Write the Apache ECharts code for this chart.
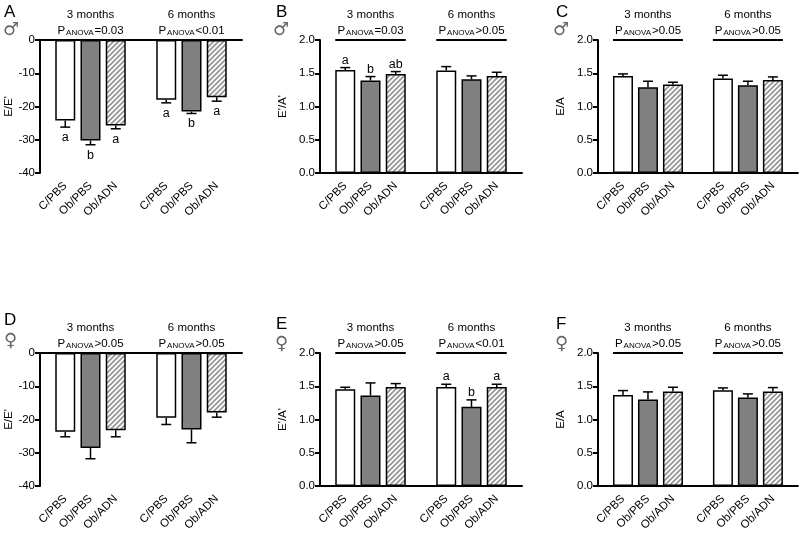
<!DOCTYPE html>
<html><head><meta charset="utf-8">
<script src="https://cdn.jsdelivr.net/npm/echarts@6/dist/echarts.min.js"></script>
<style>html,body{margin:0;padding:0;background:#fff}#c{width:800px;height:535px}</style>
</head><body><div id="c"></div>
<script>
// ---------- data ----------
const groupNames = ['C/PBS', 'Ob/PBS', 'Ob/ADN'];
const periods = ['3 months', '6 months'];
const xCats = ['', 'C/PBS', 'Ob/PBS', 'Ob/ADN', '', 'C/PBS', 'Ob/PBS', 'Ob/ADN', ''];

const aMean = [-24.2, -30.2, -25.7, -18.0, -21.5, -17.2];
const aSem  = [2.0, 1.3, 1.0, 0.9, 0.6, 1.2];
const aLetters = ['a', 'b', 'a', 'a', 'b', 'a'];
const aP = ['=0.03', '<0.01'];

const bMean = [1.55, 1.39, 1.49, 1.54, 1.41, 1.46];
const bSem  = [0.035, 0.06, 0.035, 0.06, 0.05, 0.055];
const bLetters = ['a', 'b', 'ab', '', '', ''];
const bP = ['=0.03', '>0.05'];

const cMean = [1.46, 1.29, 1.33, 1.42, 1.32, 1.40];
const cSem  = [0.03, 0.09, 0.035, 0.05, 0.06, 0.045];
const cLetters = ['', '', '', '', '', ''];
const cP = ['>0.05', '>0.05'];

const dMean = [-23.7, -28.6, -23.2, -19.5, -23.0, -17.9];
const dSem  = [1.5, 3.2, 2.0, 2.0, 4.0, 1.4];
const dLetters = ['', '', '', '', '', ''];
const dP = ['>0.05', '>0.05'];

const eMean = [1.455, 1.36, 1.49, 1.49, 1.19, 1.49];
const eSem  = [0.03, 0.19, 0.05, 0.04, 0.105, 0.04];
const eLetters = ['', '', '', 'a', 'b', 'a'];
const eP = ['>0.05', '<0.01'];

const fMean = [1.37, 1.30, 1.42, 1.44, 1.33, 1.42];
const fSem  = [0.065, 0.115, 0.065, 0.035, 0.055, 0.06];
const fLetters = ['', '', '', '', '', ''];
const fP = ['>0.05', '>0.05'];

const yTicksNeg = { min: -40, max: 0, interval: 10 };
const yTicksPos = { min: 0, max: 2, interval: 0.5 };

// ---------- layout / style ----------
const FONT = 'Arial, "Liberation Sans", sans-serif';
const panels = [
  { tag: 'A', sex: '\u2642', yName: "E/E'", mean: aMean, sem: aSem, letters: aLetters, p: aP, neg: true,  left: 40,  top: 40,  tagPos: [4, 4],   sexPos: [3, 21],   nameGap: 25 },
  { tag: 'B', sex: '\u2642', yName: "E'/A'", mean: bMean, sem: bSem, letters: bLetters, p: bP, neg: false, left: 320, top: 40,  tagPos: [276, 4], sexPos: [273, 21], nameGap: 31 },
  { tag: 'C', sex: '\u2642', yName: 'E/A',  mean: cMean, sem: cSem, letters: cLetters, p: cP, neg: false, left: 598, top: 40,  tagPos: [556, 4], sexPos: [553, 21], nameGap: 31 },
  { tag: 'D', sex: '\u2640', yName: "E/E'", mean: dMean, sem: dSem, letters: dLetters, p: dP, neg: true,  left: 40,  top: 353, tagPos: [4, 312], sexPos: [4, 332], nameGap: 25 },
  { tag: 'E', sex: '\u2640', yName: "E'/A'", mean: eMean, sem: eSem, letters: eLetters, p: eP, neg: false, left: 320, top: 353, tagPos: [276, 316], sexPos: [275, 335], nameGap: 31 },
  { tag: 'F', sex: '\u2640', yName: 'E/A',  mean: fMean, sem: fSem, letters: fLetters, p: fP, neg: false, left: 598, top: 353, tagPos: [556, 316], sexPos: [555, 335], nameGap: 31 }
];
const GW = 202, GH = 133, BAR_W = 20, CAP = 5;
const slotOf = i => (i < 3 ? i + 1 : i + 2);

// hatch pattern tile ("////" stripes)
function makeHatch() {
  const s = 5, c = document.createElement('canvas');
  c.width = s; c.height = s;
  const g = c.getContext('2d');
  g.fillStyle = '#ffffff'; g.fillRect(0, 0, s, s);
  g.strokeStyle = '#999999'; g.lineWidth = 1.9;
  g.beginPath();
  g.moveTo(-1, s + 1); g.lineTo(s + 1, -1);
  g.moveTo(-1, 1); g.lineTo(1, -1);
  g.moveTo(s - 1, s + 1); g.lineTo(s + 1, s - 1);
  g.stroke();
  return c;
}
const hatch = makeHatch();

const fills = [
  { color: '#ffffff' },
  { color: '#808080' },
  { color: { image: hatch, repeat: 'repeat' } }
];

const grid = [], xAxis = [], yAxis = [], series = [], graphic = [];
panels.forEach((pn, k) => {
  grid.push({ left: pn.left, top: pn.top, width: GW, height: GH });
  const yr = pn.neg ? yTicksNeg : yTicksPos;
  yAxis.push({
    type: 'value', gridIndex: k, min: yr.min, max: yr.max, interval: yr.interval,
    splitLine: { show: false },
    axisLine: { show: true, lineStyle: { color: '#000', width: 2 } },
    axisTick: { show: true, length: 5, lineStyle: { color: '#000', width: 2 } },
    axisLabel: { color: '#000', fontSize: 11.5, fontFamily: FONT, margin: 5,
      formatter: v => pn.neg ? String(v) : v.toFixed(1) },
    name: pn.yName, nameLocation: 'middle', nameGap: pn.nameGap, nameRotate: 90,
    nameTextStyle: { color: '#000', fontSize: 11.5, fontFamily: FONT }
  });
  const mainX = xAxis.length;
  xAxis.push({
    type: 'category', gridIndex: k, data: xCats, boundaryGap: false, position: 'bottom',
    axisLine: { show: !pn.neg, onZero: false, lineStyle: { color: '#000', width: 2 } },
    axisTick: { show: false },
    axisLabel: { interval: 0, rotate: 45, color: '#000', fontSize: 11.5, fontFamily: FONT, margin: 11 }
  });
  if (pn.neg) {
    xAxis.push({
      type: 'category', gridIndex: k, data: xCats, boundaryGap: false, position: 'top',
      axisLine: { show: true, onZero: false, lineStyle: { color: '#000', width: 2 } },
      axisTick: { show: false }, axisLabel: { show: false }
    });
  }
  // bars
  const barData = xCats.map(() => '-');
  pn.mean.forEach((m, i) => {
    const f = fills[i % 3];
    barData[slotOf(i)] = { value: m, itemStyle: Object.assign({ borderColor: '#000', borderWidth: 1.5 }, f) };
  });
  series.push({ type: 'bar', xAxisIndex: mainX, yAxisIndex: k, data: barData, barWidth: BAR_W, silent: true, animation: false });
  // error bars + letters
  const sign = pn.neg ? -1 : 1;
  const errData = pn.mean.map((m, i) => [slotOf(i), m, m + sign * pn.sem[i]]);
  series.push({
    type: 'custom', xAxisIndex: mainX, yAxisIndex: k, data: errData, z: 5, animation: false, silent: true,
    renderItem: (params, api) => {
      const x = api.value(0), m = api.value(1), e = api.value(2);
      const p0 = api.coord([x, m]), p1 = api.coord([x, e]);
      const ch = [
        { type: 'line', shape: { x1: p0[0], y1: p0[1], x2: p1[0], y2: p1[1] }, style: { stroke: '#000', lineWidth: 1.5 } },
        { type: 'line', shape: { x1: p1[0] - CAP, y1: p1[1], x2: p1[0] + CAP, y2: p1[1] }, style: { stroke: '#000', lineWidth: 1.5 } }
      ];
      const L = pn.letters[params.dataIndex];
      if (L) {
        ch.push({ type: 'text', style: { text: L, x: p1[0], y: pn.neg ? p1[1] + 4 : p1[1] - 1,
          align: 'center', verticalAlign: pn.neg ? 'top' : 'bottom', fill: '#000', fontSize: 12.5, fontFamily: FONT } });
      }
      return { type: 'group', children: ch };
    }
  });
  // group headers
  const topVal = yr.max;
  series.push({
    type: 'custom', xAxisIndex: mainX, yAxisIndex: k, data: [[2, topVal], [6, topVal]], z: 6, animation: false, silent: true, clip: false,
    renderItem: (params, api) => {
      const c = api.value(0), v = api.value(1);
      const pc = api.coord([c, v]);
      const pl = api.coord([c - 1, v]), pr = api.coord([c + 1, v]);
      const gi = params.dataIndex;
      return { type: 'group', children: [
        { type: 'line', shape: { x1: pl[0] - BAR_W / 2, y1: pc[1], x2: pr[0] + BAR_W / 2, y2: pc[1] }, style: { stroke: '#000', lineWidth: 2 } },
        { type: 'text', style: { text: periods[gi], x: pc[0], y: pc[1] - 19, align: 'center', verticalAlign: 'bottom', fill: '#000', fontSize: 11.5, fontFamily: FONT } },
        { type: 'text', style: { text: '{p|P}{s|ANOVA}{p|' + pn.p[gi] + '}', x: pc[0], y: pc[1] - 3, align: 'center', verticalAlign: 'bottom',
          fill: '#000', fontSize: 11.5, fontFamily: FONT,
          rich: { p: { fontSize: 11.5, lineHeight: 13, fontFamily: FONT, fill: '#000' },
                  s: { fontSize: 8, lineHeight: 9, verticalAlign: 'bottom', fontFamily: FONT, fill: '#000', padding: [0, 1, 0, 1] } } } }
      ] };
    }
  });
  graphic.push({ type: 'text', left: pn.tagPos[0], top: pn.tagPos[1], style: { text: pn.tag, fontSize: 17, fontFamily: FONT, fill: '#000' } });
  graphic.push({ type: 'text', left: pn.sexPos[0], top: pn.sexPos[1], style: { text: pn.sex, fontSize: 18, fontFamily: '"DejaVu Sans", sans-serif', fill: '#666' } });
});

const chart = echarts.init(document.getElementById('c'), null, { renderer: 'canvas' });
chart.setOption({ backgroundColor: '#fff', animation: false, grid, xAxis, yAxis, series, graphic });
</script></body></html>
